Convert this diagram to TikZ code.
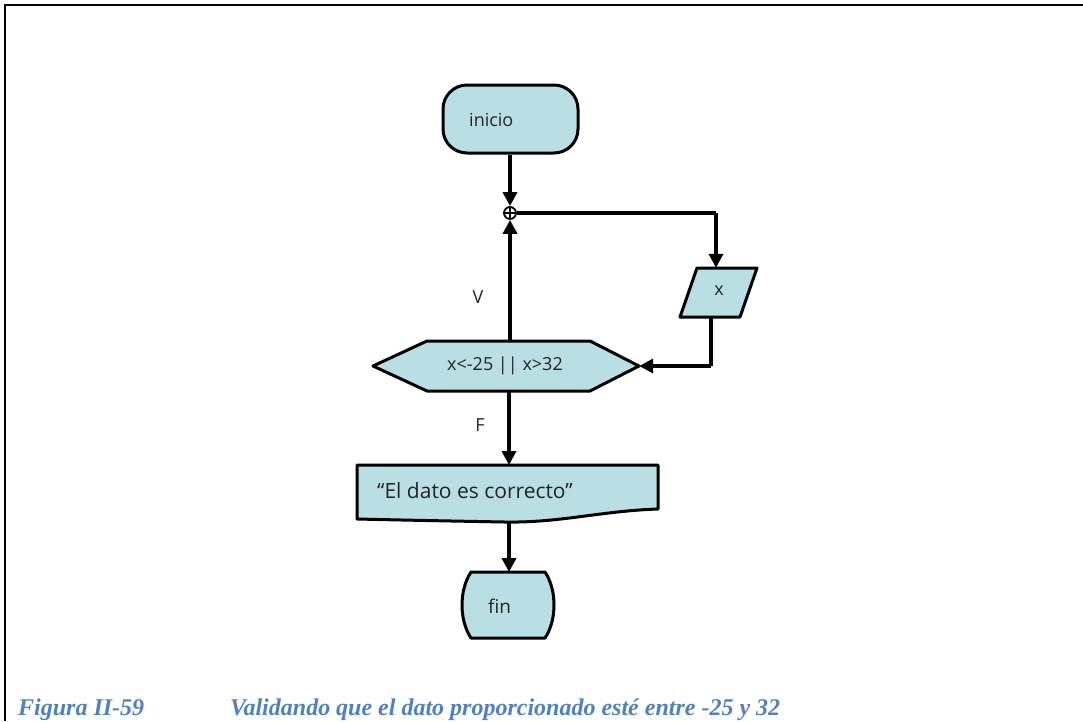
\documentclass[tikz,border=0pt]{standalone}
\usepackage{fontspec}
\setmainfont{Liberation Serif}
\newfontfamily\diagfont{Open Sans}
\usetikzlibrary{arrows.meta}
\definecolor{boxfill}{RGB}{185,222,228}
\definecolor{capblue}{RGB}{79,129,189}
\definecolor{inktext}{RGB}{35,35,35}

\begin{document}
\begin{tikzpicture}[x=1pt,y=-1pt,
  shapeline/.style={line width=3pt, draw=black, fill=boxfill, line join=round},
  flow/.style={line width=3.8pt, -{Triangle[length=14pt,width=14pt]}},
  plain/.style={line width=3.8pt},
  lbl/.style={font=\diagfont\fontsize{18}{20}\selectfont, text=inktext, inner sep=0pt},
  holder/.style={inner sep=0pt, draw=none},
  caption/.style={font=\fontsize{24}{26}\selectfont\bfseries\itshape, text=capblue, inner sep=0pt, anchor=base west}]

\useasboundingbox (0,0) rectangle (1083,721);

% page frame
\draw[line width=2.5pt] (5,721) -- (5,5) -- (1083,5);

% start terminal
\node[holder, shapeline, rounded corners=24pt, minimum width=135pt, minimum height=68pt] (inicio) at (510.5,119) {};
\node[lbl, anchor=west] (inicioT) at (469,120) {inicio};

% connector junction
\node[circle, draw, line width=1.8pt, fill=white, minimum size=12pt, inner sep=0pt] (join) at (510,213) {};
\draw[line width=1.8pt] (join.north) -- (join.south) (join.west) -- (join.east);

% input parallelogram
\draw[shapeline] (697,268) -- (757,268) -- (740,317) -- (680,317) -- cycle;
\node[holder, minimum width=60pt, minimum height=49pt] (inbox) at (718.5,292.5) {};
\node[lbl] (inboxT) at (719,291) {x};

% decision hexagon
\draw[shapeline] (373,366) -- (427,341) -- (590,341) -- (639,366) -- (590,391) -- (427,391) -- cycle;
\node[holder, minimum width=266pt, minimum height=50pt] (hex) at (506,366) {};
\node[lbl] (hexT) at (505,366) {x<-25 || x>32};

% output document
\draw[shapeline] (357,465) -- (658,465) -- (658,509)
  .. controls (600,511) and (560,523) .. (505,522)
  .. controls (450,521) and (400,520) .. (357,519) -- cycle;
\node[holder, minimum width=301pt, minimum height=57pt] (doc) at (507.5,493.5) {};
\node[lbl, anchor=west, font=\diagfont\fontsize{21}{23}\selectfont] (docT) at (377,491) {“El dato es correcto”};

% end terminal
\draw[shapeline] (471,572) -- (545,572)
  .. controls (557,590) and (557,620) .. (545,638) -- (471,638)
  .. controls (459,620) and (459,590) .. (471,572) -- cycle;
\node[holder, minimum width=90pt, minimum height=66pt] (fin) at (508,605) {};
\node[lbl, font=\diagfont\fontsize{19}{21}\selectfont] (finT) at (499.5,606) {fin};

% branch labels
\node[lbl] (vlab) at (478,297) {V};
\node[lbl] (flab) at (480,425) {F};

% connectors
\coordinate (c1) at (716,213);
\coordinate (c2) at (711,366);
\draw[flow] (inicio.south -| join) -- (join.north);
\draw[plain] (join.east) -- (c1);
\draw[flow] (c1) -- (c1 |- inbox.north);
\draw[plain] (c2 |- inbox.south) -- (c2);
\draw[flow] (c2) -- (hex.east);
\draw[flow] (join |- hex.north) -- (join.south);
\draw[flow] (509,391) -- (509,465);
\draw[flow] (509,521) -- (509,572);

% caption
\node[caption] (capnum) at (18,715) {Figura II-59};
\node[caption] (captext) at (230,715) {Validando que el dato proporcionado esté entre -25 y 32};
\end{tikzpicture}
\end{document}
